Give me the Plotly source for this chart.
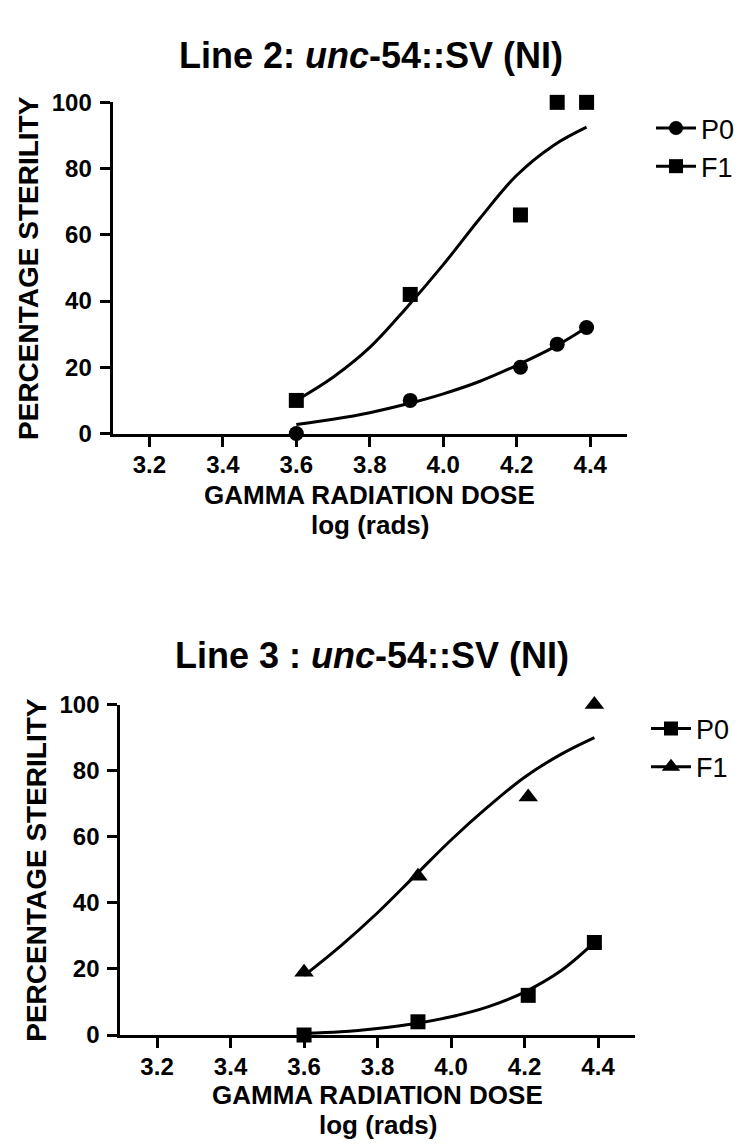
import plotly.graph_objects as go

# ---- data: Line 2 (top) ----
dose = [3.6, 3.91, 4.21, 4.31, 4.39]
l2_p0 = [0, 10, 20, 27, 32]
l2_f1 = [10, 42, 66, 100, 100]
curve_x = [3.6, 3.7, 3.8, 3.9, 4.0, 4.1, 4.2, 4.3, 4.39]
l2_p0_fit = [2.7, 4.3, 6.3, 8.9, 12.0, 15.8, 20.6, 26.0, 32.0]
l2_f1_fit = [10, 17, 26, 38, 51, 65, 78, 87, 92.5]

# ---- data: Line 3 (bottom) ----
dose3 = [3.6, 3.91, 4.21, 4.39]
l3_p0 = [0, 4, 12, 28]
l3_f1 = [19, 48, 72, 100]
l3_p0_fit = [0.5, 1.0, 2.0, 3.4, 5.5, 8.5, 13.0, 19.5, 28.0]
l3_f1_fit = [18, 27, 37, 48, 59, 69, 78, 85, 90]

x_ticks = [3.2, 3.4, 3.6, 3.8, 4.0, 4.2, 4.4]
x_ticklabels = ["3.2", "3.4", "3.6", "3.8", "4.0", "4.2", "4.4"]
y_ticks = [0, 20, 40, 60, 80, 100]

FONT = "Arial, Liberation Sans, sans-serif"
W, H = 747, 1144

fig = go.Figure()

def add_panel(xa, ya, pts, fits, legend):
    for (xs, ys, sym, name), (fx, fy) in zip(pts, fits):
        size = 17 if sym.startswith("triangle") else 15
        fig.add_trace(go.Scatter(x=fx, y=fy, mode="lines", line=dict(color="black", width=3, shape="spline"),
                                 xaxis=xa, yaxis=ya, showlegend=False, hoverinfo="skip"))
        fig.add_trace(go.Scatter(x=xs, y=ys, mode="markers", marker=dict(symbol=sym, size=size, color="black"),
                                 xaxis=xa, yaxis=ya, showlegend=False, cliponaxis=False))
        fig.add_trace(go.Scatter(x=[None], y=[None], mode="lines+markers", name=name,
                                 marker=dict(symbol=sym, size=size - 1, color="black"),
                                 line=dict(color="black", width=3),
                                 xaxis=xa, yaxis=ya, legend=legend))

add_panel("x", "y",
          [(dose, l2_p0, "circle", "P0"), (dose, l2_f1, "square", "F1")],
          [(curve_x, l2_p0_fit), (curve_x, l2_f1_fit)], "legend")
add_panel("x2", "y2",
          [(dose3, l3_p0, "square", "P0"), (dose3, l3_f1, "triangle-up", "F1")],
          [(curve_x, l3_p0_fit), (curve_x, l3_f1_fit)], "legend2")

def xaxis(domain, anchor):
    return dict(domain=domain, anchor=anchor, range=[3.1, 4.5], tickvals=x_ticks, ticktext=x_ticklabels,
                showline=True, linecolor="black", linewidth=3, ticks="outside", ticklen=10, tickwidth=3,
                tickcolor="black", showgrid=False, zeroline=False, ticklabelstandoff=-2,
                tickfont=dict(family=FONT, size=24, color="black", weight="bold"))

def yaxis(domain, anchor):
    return dict(domain=domain, anchor=anchor, range=[0, 100], tickvals=y_ticks,
                showline=True, linecolor="black", linewidth=3, ticks="outside", ticklen=10, tickwidth=3,
                tickcolor="black", showgrid=False, zeroline=False, ticklabelstandoff=3,
                tickfont=dict(family=FONT, size=24, color="black", weight="bold"))

# panel geometry in pixels
top_y100, top_y0, top_xl, top_xr = 82.3, 421.5, 104.6, 619.0
bot_y100, bot_y0, bot_xl, bot_xr = 699.0, 1037.5, 112.3, 626.8

fig.update_layout(
    width=W, height=H, margin=dict(l=0, r=0, t=0, b=0),
    paper_bgcolor="white", plot_bgcolor="white",
    xaxis=xaxis([top_xl / W, top_xr / W], "y"), yaxis=yaxis([1 - top_y0 / H, 1 - top_y100 / H], "x"),
    xaxis2=xaxis([bot_xl / W, bot_xr / W], "y2"), yaxis2=yaxis([1 - bot_y0 / H, 1 - bot_y100 / H], "x2"),
)

legend_common = dict(font=dict(family=FONT, size=27, color="black"), bgcolor="rgba(0,0,0,0)",
                     xanchor="left", yanchor="top", tracegroupgap=0, itemwidth=40)
fig.update_layout(
    legend=dict(x=643 / W, y=1 - 84 / H, **legend_common),
    legend2=dict(x=638 / W, y=1 - 699 / H, **legend_common),
)

def ann(text, x, y, size, angle=0):
    return dict(text=text, x=x / W, y=1 - y / H, xref="paper", yref="paper", showarrow=False,
                textangle=angle, xanchor="center", yanchor="middle",
                font=dict(family=FONT, size=size, color="black", weight="bold"))

annotations = [
    ann("Line 2: <i>unc</i>-54::SV (NI)", 363, 34, 36),
    ann("Line 3 : <i>unc</i>-54::SV (NI)", 364, 649, 36),
    ann("PERCENTAGE STERILITY", 21, (top_y100 + top_y0) / 2, 28, -90),
    ann("PERCENTAGE STERILITY", 29, (bot_y100 + bot_y0) / 2, 28, -90),
    ann("GAMMA RADIATION DOSE", (top_xl + top_xr) / 2, top_y0 + 63, 26),
    ann("log (rads)", (top_xl + top_xr) / 2, top_y0 + 94, 26),
    ann("GAMMA RADIATION DOSE", (bot_xl + bot_xr) / 2, bot_y0 + 61, 26),
    ann("log (rads)", (bot_xl + bot_xr) / 2, bot_y0 + 92, 26),
]
fig.update_layout(annotations=annotations)

fig.write_html("out.html")
